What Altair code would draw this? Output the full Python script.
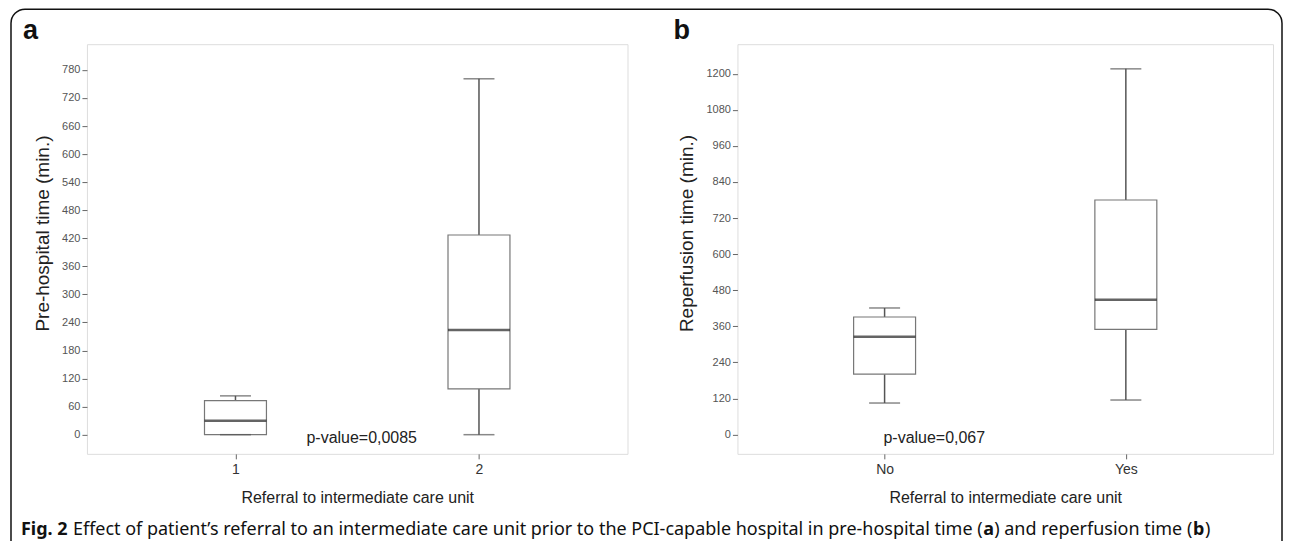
import altair as alt
import pandas as pd

# ---- data ----
groups_a = ["1", "2"]
low_a = [0, 0]
q1_a = [0, 98]
med_a = [30, 224]
q3_a = [73, 427]
high_a = [83, 761]
ticks_a = [0, 60, 120, 180, 240, 300, 360, 420, 480, 540, 600, 660, 720, 780]
domain_a = [-41, 835]

groups_b = ["No", "Yes"]
low_b = [105, 115]
q1_b = [201, 350]
med_b = [325, 448]
q3_b = [391, 780]
high_b = [421, 1216]
ticks_b = [0, 120, 240, 360, 480, 600, 720, 840, 960, 1080, 1200]
domain_b = [-64, 1298]

xtitle = "Referral to intermediate care unit"
ytitle_a = "Pre-hospital time (min.)"
ytitle_b = "Reperfusion time (min.)"
pval_a = "p-value=0,0085"
pval_b = "p-value=0,067"

FONT = "Liberation Sans"
W_A, W_B, H = 541, 536, 410
BOX = 62
CAP = 31


def panel(groups, low, q1, med, q3, high, ticks, domain, ytitle, pval, pval_x,
          letter, ytitle_x, width):
    df = pd.DataFrame({"g": groups, "low": low, "q1": q1, "med": med,
                       "q3": q3, "high": high})
    base = alt.Chart(df)
    xenc = alt.X("g:N", sort=groups,
                 scale=alt.Scale(type="point", padding=0.61),
                 axis=alt.Axis(title=xtitle, labelAngle=0, labelFont=FONT,
                               labelFontSize=14, labelColor="#333",
                               labelPadding=4, tickSize=5, tickColor="#666",
                               domain=False, grid=False, titleFont=FONT,
                               titleFontSize=16, titleFontWeight="normal",
                               titleColor="#222", titleY=44,
                               titleBaseline="middle"))
    yscale = alt.Scale(domain=domain, nice=False, zero=False)
    yaxis = alt.Axis(title=ytitle, values=ticks, format="d", labelFont=FONT,
                     labelFontSize=11, labelColor="#555", labelPadding=2,
                     tickSize=5, tickColor="#666", domain=False, grid=False,
                     titleFont=FONT, titleFontSize=19, titleFontWeight="normal",
                     titleColor="#222", titleAngle=270, titleX=ytitle_x,
                     titleY=189, titleBaseline="middle", titleAlign="center")

    def Y(f):
        return alt.Y(f + ":Q", scale=yscale, axis=yaxis)

    lower = base.mark_rule(color="#555", strokeWidth=1.5).encode(
        x=xenc, y=Y("low"), y2="q1")
    upper = base.mark_rule(color="#555", strokeWidth=1.5).encode(
        x=xenc, y=Y("q3"), y2="high")
    cap_lo = base.mark_tick(color="#555", size=CAP, thickness=1.5).encode(
        x=xenc, y=Y("low"))
    cap_hi = base.mark_tick(color="#555", size=CAP, thickness=1.5).encode(
        x=xenc, y=Y("high"))
    box = base.mark_bar(size=BOX, fill="white", stroke="#777",
                        strokeWidth=1.2).encode(x=xenc, y=Y("q1"), y2="q3")
    median = base.mark_tick(color="#222", size=BOX, thickness=2.5).encode(
        x=xenc, y=Y("med"))

    one = alt.Data(values=[{"k": 1}])
    ptext = alt.Chart(one).mark_text(font=FONT, fontSize=16, color="#222",
                                     align="center", baseline="middle").encode(
        x=alt.value(pval_x), y=alt.value(394), text=alt.value(pval))
    lab = alt.Chart(one).mark_text(font=FONT, fontSize=27, fontWeight="bold",
                                   color="#111", align="left",
                                   baseline="alphabetic").encode(
        x=alt.value(-64), y=alt.value(-5), text=alt.value(letter))

    layers = [lower, upper, box, cap_lo, cap_hi, median, ptext, lab]
    return alt.layer(*layers).properties(width=width, height=H)


pa = panel(groups_a, low_a, q1_a, med_a, q3_a, high_a, ticks_a, domain_a,
           ytitle_a, pval_a, 275, "a", -44, W_A)
pb = panel(groups_b, low_b, q1_b, med_b, q3_b, high_b, ticks_b, domain_b,
           ytitle_b, pval_b, 197, "b", -51, W_B)

# caption and frame (decoration), drawn in panel a's coordinates
one = alt.Data(values=[{"k": 1}])
frame = alt.Chart(one).mark_rect(fillOpacity=0, stroke="#111", strokeWidth=1.5,
                                 cornerRadius=14).encode(
    x=alt.value(-76), x2=alt.value(1196), y=alt.value(-35), y2=alt.value(512))

cap_font = "Noto Sans"
cap_size = 18
cap_parts = [
    ("Fig. 2", -66, "bold"),
    ("Effect of patient\u2019s referral to an intermediate care unit prior to the "
     "PCI-capable hospital in pre-hospital time (", -14, "normal"),
    ("a", 897, "bold"),
    (") and reperfusion time (", 908, "normal"),
    ("b", 1107, "bold"),
    (")", 1119, "normal"),
]
cap_layers = []
for txt, xx, wt in cap_parts:
    cap_layers.append(
        alt.Chart(one).mark_text(font=cap_font, fontSize=cap_size,
                                 fontWeight=wt, color="#111", align="left",
                                 baseline="middle").encode(
            x=alt.value(xx), y=alt.value(486), text=alt.value(txt)))

pa = alt.layer(frame, pa, *cap_layers)

chart = alt.hconcat(pa, pb, spacing=110, bounds="flush").properties(
    padding={"left": 1, "top": -1, "right": 0, "bottom": -17}
).configure_view(stroke="#888", strokeWidth=1.2).configure(background="white")

chart.save("out.html", embed_options={"renderer": "svg", "actions": False})
